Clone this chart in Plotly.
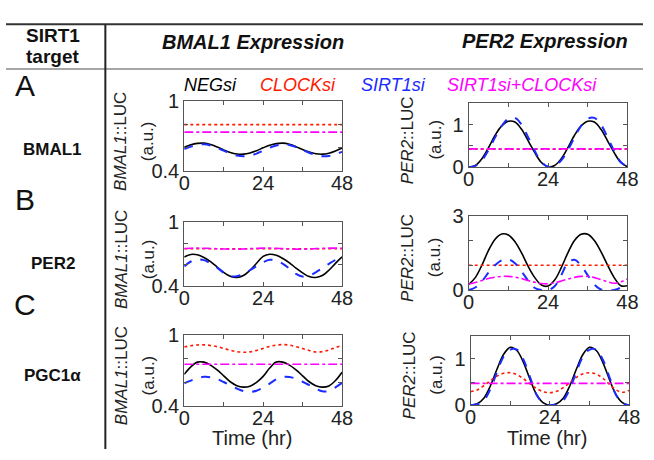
import plotly.graph_objects as go

# ---------------- data ----------------
TIME = [0, 2, 4, 6, 8, 10, 12, 14, 16, 18, 20, 22, 24,
        26, 28, 30, 32, 34, 36, 38, 40, 42, 44, 46, 48]

SERIES_NAMES = ["NEGsi", "CLOCKsi", "SIRT1si", "SIRT1si+CLOCKsi"]
ROW_LETTERS = ["A", "B", "C"]
ROW_TARGETS = ["BMAL1", "PER2", "PGC1α"]
X_TICKS = [0, 12, 24, 36, 48]
X_TICK_TEXT = ["0", "", "24", "", "48"]

# Row A (target BMAL1) - BMAL1::LUC
A_BMAL_NEG = [0.605, 0.626, 0.638, 0.640, 0.628, 0.607, 0.582, 0.560, 0.547, 0.545, 0.555, 0.575, 0.600,
              0.622, 0.636, 0.640, 0.630, 0.610, 0.585, 0.563, 0.549, 0.545, 0.553, 0.572, 0.598]
A_BMAL_CLOCK = [0.80, 0.80, 0.80, 0.80, 0.80, 0.80, 0.80, 0.80, 0.80, 0.80, 0.80, 0.80, 0.80,
                0.80, 0.80, 0.80, 0.80, 0.80, 0.80, 0.80, 0.80, 0.80, 0.80, 0.80, 0.80]
A_BMAL_SIRT1 = [0.590, 0.610, 0.625, 0.630, 0.620, 0.600, 0.575, 0.550, 0.533, 0.527, 0.533, 0.550, 0.575,
                0.600, 0.620, 0.630, 0.625, 0.607, 0.583, 0.557, 0.537, 0.527, 0.530, 0.545, 0.565]
A_BMAL_BOTH = [0.735, 0.735, 0.735, 0.735, 0.735, 0.735, 0.735, 0.735, 0.735, 0.735, 0.735, 0.735, 0.735,
               0.735, 0.735, 0.735, 0.735, 0.735, 0.735, 0.735, 0.735, 0.735, 0.735, 0.735, 0.735]

# Row A - PER2::LUC
A_PER_NEG = [0.00, 0.04, 0.20, 0.46, 0.75, 0.97, 1.08, 1.06, 0.89, 0.62, 0.34, 0.11, 0.01,
             0.04, 0.20, 0.46, 0.75, 0.97, 1.08, 1.06, 0.89, 0.62, 0.34, 0.11, 0.01]
A_PER_CLOCK = [0.42, 0.42, 0.42, 0.42, 0.42, 0.42, 0.42, 0.42, 0.42, 0.42, 0.42, 0.42, 0.42,
               0.42, 0.42, 0.42, 0.42, 0.42, 0.42, 0.42, 0.42, 0.42, 0.42, 0.42, 0.42]
A_PER_SIRT1 = [0.00, 0.03, 0.16, 0.40, 0.70, 0.97, 1.14, 1.16, 1.00, 0.70, 0.38, 0.12, 0.01,
               0.03, 0.16, 0.40, 0.70, 0.97, 1.14, 1.16, 1.00, 0.70, 0.38, 0.12, 0.01]
A_PER_BOTH = [0.43, 0.43, 0.43, 0.43, 0.43, 0.43, 0.43, 0.43, 0.43, 0.43, 0.43, 0.43, 0.43,
              0.43, 0.43, 0.43, 0.43, 0.43, 0.43, 0.43, 0.43, 0.43, 0.43, 0.43, 0.43]

# Row B (target PER2) - BMAL1::LUC
B_BMAL_NEG = [0.675, 0.698, 0.695, 0.670, 0.630, 0.580, 0.530, 0.493, 0.482, 0.500, 0.550, 0.615, 0.680,
              0.700, 0.690, 0.660, 0.620, 0.570, 0.525, 0.490, 0.482, 0.500, 0.550, 0.615, 0.675]
B_BMAL_CLOCK = [0.752, 0.752, 0.752, 0.752, 0.752, 0.752, 0.752, 0.752, 0.752, 0.752, 0.752, 0.752, 0.752,
                0.752, 0.752, 0.752, 0.752, 0.752, 0.752, 0.752, 0.752, 0.752, 0.752, 0.752, 0.752]
B_BMAL_SIRT1 = [0.586, 0.632, 0.652, 0.645, 0.615, 0.575, 0.527, 0.494, 0.493, 0.515, 0.550, 0.590, 0.625,
                0.648, 0.642, 0.610, 0.565, 0.515, 0.490, 0.500, 0.530, 0.570, 0.610, 0.645, 0.665]
B_BMAL_BOTH = [0.755, 0.757, 0.758, 0.757, 0.755, 0.752, 0.750, 0.748, 0.748, 0.750, 0.753, 0.756, 0.758,
               0.758, 0.756, 0.753, 0.750, 0.748, 0.748, 0.750, 0.753, 0.756, 0.758, 0.758, 0.757]

# Row B - PER2::LUC
B_PER_NEG = [0.22, 0.50, 1.00, 1.60, 2.05, 2.26, 2.22, 1.95, 1.50, 0.95, 0.50, 0.20, 0.16,
             0.40, 0.90, 1.50, 2.00, 2.25, 2.25, 2.00, 1.55, 1.00, 0.50, 0.17, 0.17]
B_PER_CLOCK = [1.0, 1.0, 1.0, 1.0, 1.0, 1.0, 1.0, 1.0, 1.0, 1.0, 1.0, 1.0, 1.0,
               1.0, 1.0, 1.0, 1.0, 1.0, 1.0, 1.0, 1.0, 1.0, 1.0, 1.0, 1.0]
B_PER_SIRT1 = [0.00, 0.10, 0.35, 0.70, 1.00, 1.20, 1.24, 1.08, 0.75, 0.38, 0.08, 0.00, 0.00,
               0.15, 0.60, 1.10, 1.22, 0.98, 0.60, 0.22, 0.02, 0.00, 0.00, 0.10, 0.30]
B_PER_BOTH = [0.24, 0.30, 0.38, 0.46, 0.52, 0.55, 0.55, 0.52, 0.46, 0.38, 0.31, 0.26, 0.25,
              0.29, 0.36, 0.44, 0.51, 0.55, 0.55, 0.50, 0.42, 0.33, 0.27, 0.33, 0.45]

# Row C (target PGC1a) - BMAL1::LUC
C_BMAL_NEG = [0.667, 0.730, 0.770, 0.770, 0.745, 0.705, 0.655, 0.605, 0.572, 0.560, 0.568, 0.600, 0.650,
              0.720, 0.770, 0.770, 0.745, 0.705, 0.655, 0.605, 0.572, 0.560, 0.570, 0.615, 0.685]
C_BMAL_CLOCK = [0.897, 0.908, 0.914, 0.915, 0.910, 0.900, 0.885, 0.870, 0.858, 0.853, 0.856, 0.868, 0.885,
                0.902, 0.913, 0.917, 0.913, 0.900, 0.884, 0.868, 0.855, 0.858, 0.872, 0.892, 0.910]
C_BMAL_SIRT1 = [0.592, 0.615, 0.636, 0.646, 0.643, 0.628, 0.603, 0.575, 0.548, 0.527, 0.520, 0.530, 0.555,
                0.590, 0.625, 0.646, 0.645, 0.630, 0.605, 0.577, 0.548, 0.525, 0.528, 0.558, 0.595]
C_BMAL_BOTH = [0.752, 0.752, 0.752, 0.752, 0.752, 0.752, 0.752, 0.752, 0.752, 0.752, 0.752, 0.752, 0.752,
               0.752, 0.752, 0.752, 0.752, 0.752, 0.752, 0.752, 0.752, 0.752, 0.752, 0.752, 0.752]

# Row C - PER2::LUC
C_PER_NEG = [0.00, 0.03, 0.15, 0.42, 0.78, 1.10, 1.25, 1.18, 0.92, 0.55, 0.22, 0.05, 0.00,
             0.03, 0.15, 0.42, 0.78, 1.10, 1.25, 1.18, 0.92, 0.55, 0.22, 0.05, 0.00]
C_PER_CLOCK = [0.29, 0.33, 0.42, 0.53, 0.63, 0.69, 0.70, 0.66, 0.57, 0.46, 0.36, 0.29, 0.27,
               0.30, 0.38, 0.49, 0.60, 0.68, 0.70, 0.67, 0.58, 0.45, 0.33, 0.28, 0.32]
C_PER_SIRT1 = [0.00, 0.02, 0.10, 0.35, 0.72, 1.05, 1.20, 1.20, 0.98, 0.60, 0.22, 0.04, 0.00,
               0.02, 0.10, 0.35, 0.72, 1.05, 1.20, 1.20, 0.98, 0.60, 0.22, 0.04, 0.00]
C_PER_BOTH = [0.47, 0.47, 0.47, 0.47, 0.47, 0.47, 0.47, 0.47, 0.47, 0.47, 0.47, 0.47, 0.47,
              0.47, 0.47, 0.47, 0.47, 0.47, 0.47, 0.47, 0.47, 0.47, 0.47, 0.47, 0.47]

# ---------------- styling / layout ----------------
W, H = 654, 460
FONT = "Liberation Sans, Arial, sans-serif"
COLORS = ["#000000", "#ff1a00", "#1a2cff", "#ff00ff"]
DASHES = ["solid", "dot", "dash", "dashdot"]
WIDTHS = [1.6, 1.6, 2.0, 1.6]
AXCOL = "#555555"


def fx(x):
    return x / W


def fy(y):
    return 1 - y / H


# (left, right, top, bottom) boxes in pixels
panels = [
    dict(box=(183, 345, 95, 168), yr=[0.4, 1.0], ytv=[0.4, 0.6, 0.8, 1.0], ytt=["0.4", "", "", "1"],
         data=[A_BMAL_NEG, A_BMAL_CLOCK, A_BMAL_SIRT1, A_BMAL_BOTH], gene="BMAL1", tx=(118, 146)),
    dict(box=(475, 638, 97, 164), yr=[0, 1.5], ytv=[0, 0.5, 1.0, 1.5], ytt=["0", "", "1", ""],
         data=[A_PER_NEG, A_PER_CLOCK, A_PER_SIRT1, A_PER_BOTH], gene="PER2", tx=(412, 440)),
    dict(box=(183, 345, 222, 289), yr=[0.4, 1.0], ytv=[0.4, 0.6, 0.8, 1.0], ytt=["0.4", "", "", "1"],
         data=[B_BMAL_NEG, B_BMAL_CLOCK, B_BMAL_SIRT1, B_BMAL_BOTH], gene="BMAL1", tx=(118, 146)),
    dict(box=(475, 638, 215, 293), yr=[0, 3], ytv=[0, 1, 2, 3], ytt=["0", "", "", "3"],
         data=[B_PER_NEG, B_PER_CLOCK, B_PER_SIRT1, B_PER_BOTH], gene="PER2", tx=(412, 440)),
    dict(box=(183, 345, 340, 415), yr=[0.4, 1.0], ytv=[0.4, 0.6, 0.8, 1.0], ytt=["0.4", "", "", "1"],
         data=[C_BMAL_NEG, C_BMAL_CLOCK, C_BMAL_SIRT1, C_BMAL_BOTH], gene="BMAL1", tx=(118, 146)),
    dict(box=(477, 640, 341, 414), yr=[0, 1.5], ytv=[0, 0.5, 1.0, 1.5], ytt=["0", "", "1", ""],
         data=[C_PER_NEG, C_PER_CLOCK, C_PER_SIRT1, C_PER_BOTH], gene="PER2", tx=(414, 442)),
]

fig = go.Figure()
layout = dict(
    width=W, height=H, margin=dict(l=0, r=0, t=0, b=0, pad=0),
    paper_bgcolor="white", plot_bgcolor="white", showlegend=False,
    font=dict(family=FONT, color="#222222"),
)
annotations = []

for i, p in enumerate(panels):
    k = "" if i == 0 else str(i + 1)
    l, r, t, b = p["box"]
    for j in range(4):
        fig.add_trace(go.Scatter(
            x=TIME, y=p["data"][j], mode="lines", name=SERIES_NAMES[j],
            line=dict(color=COLORS[j], dash=DASHES[j], width=WIDTHS[j], shape="spline", smoothing=1.0),
            xaxis="x" + k, yaxis="y" + k, hoverinfo="skip"))
    common = dict(showline=True, linecolor=AXCOL, linewidth=1, mirror="allticks",
                  ticks="inside", ticklen=4, tickcolor=AXCOL, showgrid=False, zeroline=False,
                  tickfont=dict(size=20, family=FONT, color="#222222"), fixedrange=True)
    layout["xaxis" + k] = dict(domain=[fx(l), fx(r)], range=[0, 48], anchor="y" + k,
                               tickmode="array", tickvals=X_TICKS, ticktext=X_TICK_TEXT,
                               tickangle=0, ticklabelstandoff=-6, **common)
    layout["yaxis" + k] = dict(domain=[fy(b), fy(t)], range=p["yr"], anchor="x" + k,
                               tickmode="array", tickvals=p["ytv"], ticktext=p["ytt"],
                               ticklabelstandoff=0, **common)
    yc = fy((t + b) / 2 + 5)
    annotations.append(dict(x=fx(p["tx"][0]), y=yc, xref="paper", yref="paper",
                            text="<i>%s</i>::LUC" % p["gene"], textangle=-90, showarrow=False,
                            font=dict(size=17, family=FONT, color="#222222"),
                            xanchor="center", yanchor="middle"))
    annotations.append(dict(x=fx(p["tx"][1]), y=yc, xref="paper", yref="paper",
                            text="(a.u.)", textangle=-90, showarrow=False,
                            font=dict(size=17, family=FONT, color="#222222"),
                            xanchor="center", yanchor="middle"))

# legend-like labels
for name, col, xc in zip(SERIES_NAMES, COLORS, [210, 300, 398, 530]):
    annotations.append(dict(x=fx(xc), y=fy(78), xref="paper", yref="paper", showarrow=False,
                            text="<i>%s</i>" % name, font=dict(size=18, family=FONT, color=col),
                            xanchor="center", yanchor="middle"))

# header
annotations += [
    dict(x=fx(48), y=fy(26), text="<b>SIRT1</b>", font=dict(size=19, family=FONT, color="#111")),
    dict(x=fx(48), y=fy(48), text="<b>target</b>", font=dict(size=19, family=FONT, color="#111")),
    dict(x=fx(254), y=fy(33), text="<b><i>BMAL1 Expression</i></b>", font=dict(size=20, family=FONT, color="#111")),
    dict(x=fx(553), y=fy(32), text="<b><i>PER2 Expression</i></b>", font=dict(size=20, family=FONT, color="#111")),
]
for letter, yl, tgt, yt in zip(ROW_LETTERS, [78, 198, 308], ROW_TARGETS, [145, 265, 383]):
    annotations.append(dict(x=fx(20), y=fy(yl), text=letter, font=dict(size=30, family=FONT, color="#111")))
    annotations.append(dict(x=fx(48), y=fy(yt), text="<b>%s</b>" % tgt, font=dict(size=17, family=FONT, color="#111")))

annotations.append(dict(x=fx(253), y=fy(448), text="Time (hr)", font=dict(size=20, family=FONT, color="#222")))
annotations.append(dict(x=fx(555), y=fy(448), text="Time (hr)", font=dict(size=20, family=FONT, color="#222")))

for a in annotations:
    a.setdefault("xref", "paper")
    a.setdefault("yref", "paper")
    a.setdefault("showarrow", False)
    a.setdefault("xanchor", "center")
    a.setdefault("yanchor", "middle")

layout["annotations"] = annotations
layout["shapes"] = [
    dict(type="line", xref="paper", yref="paper", x0=0, x1=1, y0=fy(14), y1=fy(14),
         line=dict(color="#333333", width=2)),
    dict(type="line", xref="paper", yref="paper", x0=0, x1=1, y0=fy(61), y1=fy(61),
         line=dict(color="#888888", width=1.5)),
    dict(type="line", xref="paper", yref="paper", x0=fx(102), x1=fx(102), y0=fy(14), y1=0,
         line=dict(color="#222222", width=2)),
]

fig.update_layout(**layout)
fig.write_html(
    "out.html",
    config={"displayModeBar": False},
    post_script="document.body.style.margin='0px';document.body.style.padding='0px';"
                "document.body.style.overflow='hidden';",
)
